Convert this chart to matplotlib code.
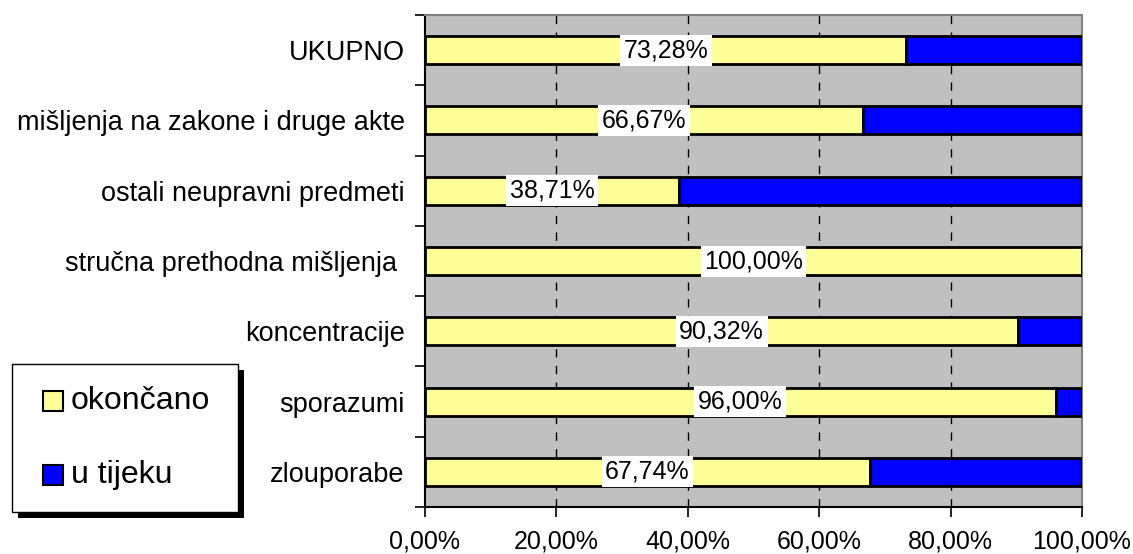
import numpy as np
import matplotlib.pyplot as plt
from matplotlib.patches import Rectangle

plt.rcParams['font.family'] = ['Liberation Sans', 'DejaVu Sans']

# kategorije odozdo prema gore
kategorije = ['zlouporabe', 'sporazumi', 'koncentracije', 'stručna prethodna mišljenja ',
              'ostali neupravni predmeti', 'mišljenja na zakone i druge akte', 'UKUPNO']
okoncano = [67.74, 96.00, 90.32, 100.00, 38.71, 66.67, 73.28]
u_tijeku = [100 - v for v in okoncano]
xticks = [0, 20, 40, 60, 80, 100]

zuta = '#FFFF99'
plava = '#0000FF'

fig = plt.figure(figsize=(11.33, 5.54), dpi=100)
ax = fig.add_axes([425 / 1133, 1 - 507 / 554, 657 / 1133, 492 / 554])
ax.set_facecolor('#C0C0C0')

y = np.arange(len(kategorije))
ax.barh(y, okoncano, height=0.4, color=zuta, edgecolor='black', linewidth=2, zorder=3)
ax.barh(y, u_tijeku, left=okoncano, height=0.4, color=plava, edgecolor='black', linewidth=2, zorder=3)

for yi, v in zip(y, okoncano):
    ax.text(v / 2, yi, f'{v:.2f}%'.replace('.', ','), ha='center', va='center', fontsize=18,
            zorder=5, bbox=dict(facecolor='white', edgecolor='none', pad=2.5))

ax.set_xlim(0, 100)
ax.set_ylim(-0.5, len(kategorije) - 0.5)
ax.set_xticks(xticks)
ax.set_xticklabels([f'{t:.2f}%'.replace('.', ',') for t in xticks], fontsize=18)
ax.set_yticks(y)
ax.set_yticklabels(kategorije, fontsize=19.5)
ax.set_yticks(np.arange(len(kategorije) + 1) - 0.5, minor=True)
ax.tick_params(axis='y', which='major', length=0, pad=14.5)
ax.tick_params(axis='y', which='minor', length=7, width=1.2, direction='out')
ax.tick_params(axis='x', length=7, width=1.2, direction='out', pad=9)

for t in xticks[1:-1]:
    ax.axvline(t, color='black', linestyle=(0, (6, 6)), linewidth=1, zorder=1)

ax.spines['left'].set_color('black')
ax.spines['left'].set_linewidth(1.5)
ax.spines['bottom'].set_color('black')
ax.spines['bottom'].set_linewidth(1.5)
ax.spines['top'].set_color('#808080')
ax.spines['top'].set_linewidth(1.5)
ax.spines['right'].set_color('#808080')
ax.spines['right'].set_linewidth(1.5)

# legenda sa sjenom
W, H = 1133, 554
lx, ly, lw, lh = 12, 364, 226, 148
fig.patches.append(Rectangle(((lx + 6) / W, 1 - (ly + lh + 6) / H), lw / W, lh / H,
                             transform=fig.transFigure, facecolor='black', edgecolor='none'))
fig.patches.append(Rectangle((lx / W, 1 - (ly + lh) / H), lw / W, lh / H,
                             transform=fig.transFigure, facecolor='white', edgecolor='black', linewidth=1))
for boja, tekst, yy in [(zuta, 'okončano', 401), (plava, 'u tijeku', 475)]:
    fig.patches.append(Rectangle((43 / W, 1 - (yy + 10) / H), 20 / W, 20 / H,
                                 transform=fig.transFigure, facecolor=boja, edgecolor='black', linewidth=1.5))
    fig.text(71 / W, 1 - yy / H, tekst, fontsize=23, va='center', ha='left')

fig.savefig('out.png', dpi=100)
